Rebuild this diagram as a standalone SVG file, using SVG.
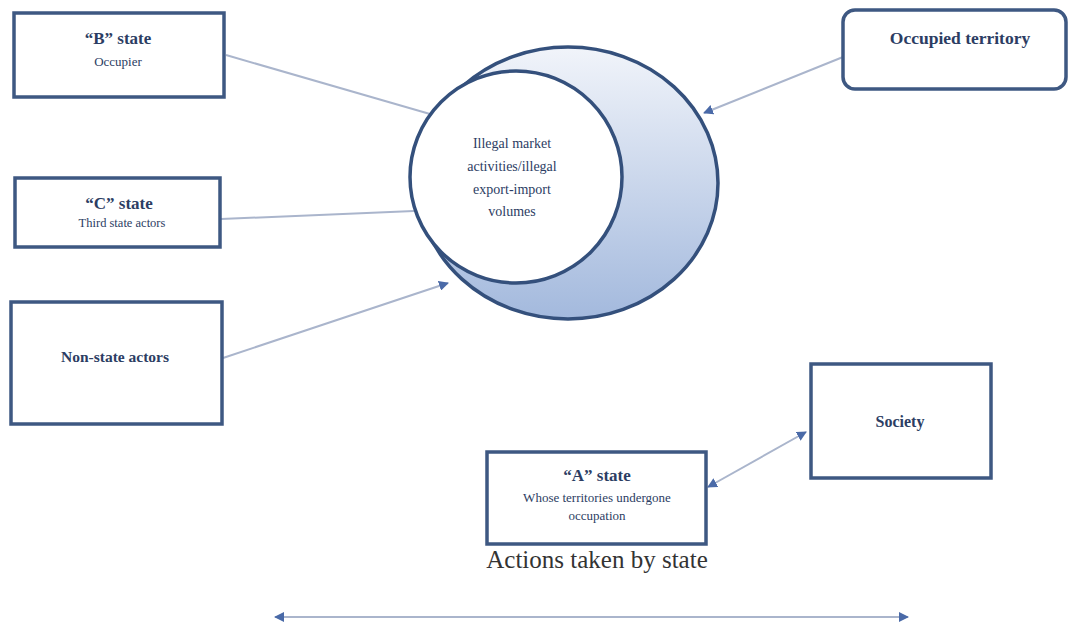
<svg xmlns="http://www.w3.org/2000/svg" width="1069" height="627" viewBox="0 0 1069 627">
<style>
.box{fill:#ffffff;stroke:#3e5882;stroke-width:3.5}
.t{font-family:"Liberation Serif","Times New Roman",serif;fill:#2c3d63;text-anchor:middle}
.b{font-weight:bold}
.conn{stroke:#aab5cc;stroke-width:2;fill:none}
</style>
<defs>
<linearGradient id="g" x1="0" y1="0" x2="0" y2="1">
<stop offset="0" stop-color="#f1f4fa"/>
<stop offset="1" stop-color="#a3b9dd"/>
</linearGradient>
<marker id="ah" viewBox="0 0 10 10" refX="9" refY="5" markerWidth="10" markerHeight="10" markerUnits="userSpaceOnUse" orient="auto-start-reverse">
<path d="M0,0 L10,5 L0,10 z" fill="#4a6aa8"/>
</marker>
</defs>

<g id="connectors">
<line class="conn" x1="226" y1="55" x2="430" y2="114"/>
<line class="conn" x1="221" y1="219" x2="414" y2="211"/>
<line class="conn" x1="223" y1="358" x2="448" y2="283" marker-end="url(#ah)"/>
<line class="conn" x1="843" y1="57" x2="704" y2="113" marker-end="url(#ah)"/>
<line class="conn" x1="708" y1="487" x2="806" y2="432" marker-start="url(#ah)" marker-end="url(#ah)"/>
<line class="conn" x1="275" y1="617" x2="908" y2="617" marker-start="url(#ah)" marker-end="url(#ah)"/>
</g>

<g id="market">
<ellipse cx="568" cy="183" rx="150" ry="136" fill="url(#g)" stroke="#34507c" stroke-width="3.5"/>
<circle cx="516" cy="177" r="106" fill="#ffffff" stroke="#34507c" stroke-width="3.5"/>
<text class="t" x="512" y="148" font-size="14">Illegal market</text>
<text class="t" x="512" y="171" font-size="14">activities/illegal</text>
<text class="t" x="512" y="194" font-size="14">export-import</text>
<text class="t" x="512" y="216" font-size="14">volumes</text>
</g>

<g id="b-state">
<rect class="box" x="14" y="13" width="210" height="84"/>
<text class="t b" x="118" y="44" font-size="17">“B” state</text>
<text class="t" x="118" y="66" font-size="13">Occupier</text>
</g>

<g id="c-state">
<rect class="box" x="15" y="178" width="205" height="69"/>
<text class="t b" x="119" y="209" font-size="17">“C” state</text>
<text class="t" x="122" y="227" font-size="12.5">Third state actors</text>
</g>

<g id="non-state">
<rect class="box" x="11" y="302" width="211" height="122"/>
<text class="t b" x="115" y="362" font-size="15.5">Non-state actors</text>
</g>

<g id="occupied">
<rect class="box" x="843" y="10" width="223" height="79" rx="12"/>
<text class="t b" x="960" y="44" font-size="17.5">Occupied territory</text>
</g>

<g id="society">
<rect class="box" x="811" y="364" width="180" height="114"/>
<text class="t b" x="900" y="427" font-size="16">Society</text>
</g>

<g id="a-state">
<rect class="box" x="487" y="452" width="219" height="92"/>
<text class="t b" x="597" y="481" font-size="17">“A” state</text>
<text class="t" x="597" y="502" font-size="13">Whose territories undergone</text>
<text class="t" x="597" y="520" font-size="13">occupation</text>
</g>

<text x="597" y="568" font-family="'Liberation Serif','Times New Roman',serif" font-size="25" fill="#333333" text-anchor="middle">Actions taken by state</text>
</svg>
